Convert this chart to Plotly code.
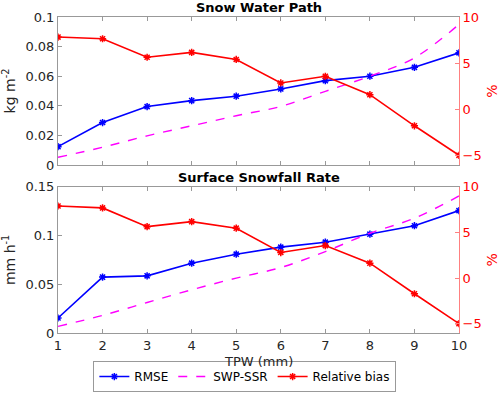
import plotly.graph_objects as go

tpw = [1, 2, 3, 4, 5, 6, 7, 8, 9, 10]

# Snow Water Path panel
swp_rmse = [0.0124, 0.0287, 0.0395, 0.0435, 0.0465, 0.0514, 0.057, 0.060, 0.066, 0.0758]
swp_ssr = [0.0052, 0.012, 0.0197, 0.0265, 0.0333, 0.0396, 0.0498, 0.060, 0.0724, 0.095]
swp_bias = [7.83, 7.65, 5.65, 6.17, 5.41, 2.87, 3.59, 1.60, -1.76, -4.95]

# Surface Snowfall Rate panel
ssr_rmse = [0.0154, 0.0573, 0.0586, 0.0716, 0.0808, 0.088, 0.0931, 0.1013, 0.110, 0.1255]
ssr_ssr = [0.0068, 0.018, 0.0313, 0.0443, 0.0563, 0.0671, 0.0835, 0.1023, 0.1177, 0.1405]
ssr_bias = [7.89, 7.68, 5.63, 6.18, 5.46, 2.80, 3.56, 1.64, -1.71, -4.98]

BLUE = "#0000ff"
MAGENTA = "#ff00ff"
RED = "#ff0000"
FONT = "DejaVu Sans"
TXT = "#262626"

fig = go.Figure()


def add_panel(xa, ya_left, ya_right, rmse, ssr, bias, legend):
    fig.add_trace(go.Scatter(
        x=tpw, y=rmse, xaxis=xa, yaxis=ya_left, name="RMSE", mode="lines+markers",
        line=dict(color=BLUE, width=1.6),
        marker=dict(symbol="asterisk-open", size=6, line=dict(color=BLUE, width=1.5)),
        showlegend=legend))
    fig.add_trace(go.Scatter(
        x=tpw, y=ssr, xaxis=xa, yaxis=ya_left, name="SWP-SSR", mode="lines",
        line=dict(color=MAGENTA, width=1.4, dash="dash", shape="spline"),
        showlegend=legend))
    fig.add_trace(go.Scatter(
        x=tpw, y=bias, xaxis=xa, yaxis=ya_right, name="Relative bias", mode="lines+markers",
        line=dict(color=RED, width=1.6),
        marker=dict(symbol="asterisk-open", size=6, line=dict(color=RED, width=1.5)),
        showlegend=legend))


add_panel("x", "y", "y2", swp_rmse, swp_ssr, swp_bias, True)
add_panel("x2", "y3", "y4", ssr_rmse, ssr_ssr, ssr_bias, False)

xcommon = dict(range=[1, 10], dtick=1, ticks="inside", ticklen=4, showgrid=False,
               zeroline=False, showline=True, linecolor="#999999", mirror="ticks",
               tickcolor="#999999", automargin=False,
               tickfont=dict(family=FONT, size=13, color=TXT))
left_common = dict(ticks="inside", ticklen=4, showgrid=False, zeroline=False,
                   showline=True, linecolor="#999999", tickcolor="#999999",
                   automargin=False,
                   tickfont=dict(family=FONT, size=13, color=TXT),
                   title_font=dict(family=FONT, size=14, color=TXT), title_standoff=6)
right_common = dict(range=[-6, 10], tickvals=[-5, 0, 5, 10], ticks="inside", ticklen=4,
                    showgrid=False, zeroline=False, showline=True, linecolor="#ff8080",
                    tickcolor="#ff8080", side="right", automargin=False,
                    tickfont=dict(family=FONT, size=13, color=RED),
                    title=dict(text="%", font=dict(family=FONT, size=14, color=RED),
                               standoff=8))

top_dom = [0.5316, 1.0]
bot_dom = [0.0, 0.463]

fig.update_layout(
    width=500, height=394,
    margin=dict(l=58, r=41, t=17, b=61, autoexpand=False),
    paper_bgcolor="white", plot_bgcolor="white",
    font=dict(family=FONT, color=TXT),
    xaxis=dict(**xcommon, anchor="y", showticklabels=False),
    xaxis2=dict(**xcommon, anchor="y3"),
    yaxis=dict(**left_common, domain=top_dom, anchor="x", range=[0, 0.1], dtick=0.02,
               title_text="kg m<sup>-2</sup>"),
    yaxis2=dict(**right_common, domain=top_dom, anchor="x", overlaying="y"),
    yaxis3=dict(**left_common, domain=bot_dom, anchor="x2", range=[0, 0.15], dtick=0.05,
                title_text="mm h<sup>-1</sup>"),
    yaxis4=dict(**right_common, domain=bot_dom, anchor="x2", overlaying="y3"),
    legend=dict(orientation="h", x=0.466, xanchor="center",
                yref="container", y=0.005, yanchor="bottom",
                bordercolor="#999999", borderwidth=1, itemwidth=30,
                font=dict(family=FONT, size=12, color="black"),
                tracegroupgap=0),
    annotations=[
        dict(text="<b>Snow Water Path</b>", x=0.5, y=1.0, xref="paper", yref="paper",
             xanchor="center", yanchor="bottom", showarrow=False, yshift=0,
             font=dict(family=FONT, size=13, color="black")),
        dict(text="<b>Surface Snowfall Rate</b>", x=0.5, y=bot_dom[1], xref="paper",
             yref="paper", xanchor="center", yanchor="bottom", showarrow=False, yshift=0,
             font=dict(family=FONT, size=13, color="black")),
        dict(text="TPW (mm)", x=0.5, y=0, xref="paper", yref="paper",
             xanchor="center", yanchor="top", showarrow=False, yshift=-19,
             font=dict(family=FONT, size=13, color=TXT)),
    ],
)

# drop the browser's default body margin so the figure sits at the page corner
fig.write_html("out.html", config={"displayModeBar": False},
               post_script="document.body.style.margin = '0';")
